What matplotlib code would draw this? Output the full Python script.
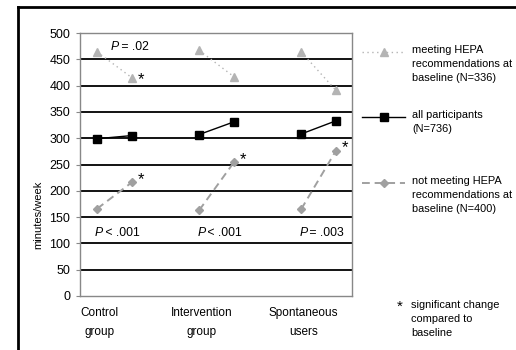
import matplotlib
matplotlib.use("Agg")
import matplotlib.pyplot as plt
from matplotlib.lines import Line2D

plt.rcParams['font.family'] = ['Liberation Sans', 'DejaVu Sans']

groups = ["Control\ngroup", "Intervention\ngroup", "Spontaneous\nusers"]
meeting = [[464, 415], [467, 417], [464, 391]]
allp = [[299, 305], [307, 331], [308, 333]]
notmeet = [[166, 216], [163, 254], [165, 276]]
p_top = ["P = .02", "", ""]
p_bottom = ["P < .001", "P < .001", "P = .003"]
sig_meeting = [True, False, False]
sig_not = [True, True, True]
yticks = list(range(0, 501, 50))

W, H = 516, 350
fig = plt.figure(figsize=(W / 100, H / 100), dpi=100)
ax = fig.add_axes([80 / W, (H - 296) / H, 272 / W, 263 / H])

off = 0.17
c_meet = "#b4b4b4"
c_not = "#a0a0a0"
st_meet = dict(color=c_meet, ls=(0, (1, 2.5)), lw=1.0, marker="^", ms=5.5, mfc=c_meet, mec=c_meet)
st_all = dict(color="black", ls="-", lw=1.0, marker="s", ms=5.5, mfc="black", mec="black")
st_not = dict(color=c_not, ls=(0, (4, 2.5)), lw=1.4, marker="D", ms=4.5, mfc=c_not, mec=c_not)
for i in range(3):
    xs = [i - off, i + off]
    ax.plot(xs, meeting[i], zorder=3, **st_meet)
    ax.plot(xs, allp[i], zorder=4, **st_all)
    ax.plot(xs, notmeet[i], zorder=3, **st_not)
    if sig_meeting[i]:
        ax.text(i + off + 0.06, meeting[i][1] - 4, "*", fontsize=12, va="center", ha="left")
    if sig_not[i]:
        ax.text(i + off + 0.06, notmeet[i][1] + 6, "*", fontsize=12, va="center", ha="left")
    if p_top[i]:
        ax.text(i - off + 0.13, 473, p_top[i][:1], fontsize=8.8, style="italic", va="center", ha="left")
        ax.text(i - off + 0.20, 473, p_top[i][1:], fontsize=8.8, va="center", ha="left")
    ax.text(i - off - 0.02, 119, p_bottom[i][:1], fontsize=8.8, style="italic", va="center", ha="left")
    ax.text(i - off + 0.05, 119, p_bottom[i][1:], fontsize=8.8, va="center", ha="left")

ax.set_xlim(-0.338, 2.328)
ax.set_ylim(0, 500)
ax.set_yticks(yticks)
ax.set_yticklabels([str(t) for t in yticks], fontsize=9)
ax.set_xticks([i - 0.15 for i in range(3)])
ax.set_xticklabels(groups, fontsize=8.5, linespacing=1.8)
ax.tick_params(axis="x", length=0, pad=8)
ax.tick_params(axis="y", length=3, color="#888888", pad=4)
for t in yticks[1:]:
    ax.axhline(t, color="black", lw=1.3, zorder=1)
for s in ax.spines.values():
    s.set_color("#888888")
    s.set_linewidth(1.0)
ax.set_ylabel("minutes/week", fontsize=8)
ax.yaxis.set_label_coords(-0.135, 0.31)

def fx(px):
    return px / W

def fy(py):
    return 1 - py / H

leg = [
    ("meeting HEPA\nrecommendations at\nbaseline (N=336)", 52, st_meet),
    ("all participants\n(N=736)", 117, st_all),
    ("not meeting HEPA\nrecommendations at\nbaseline (N=400)", 183, st_not),
]
for label, py, st in leg:
    fig.add_artist(Line2D([fx(362), fx(405)], [fy(py), fy(py)],
                          color=st["color"], ls=st["ls"], lw=st["lw"]))
    fig.add_artist(Line2D([fx(383.5)], [fy(py)], marker=st["marker"], ms=st["ms"],
                          mfc=st["mfc"], mec=st["mec"], ls="none"))
    fig.text(fx(412), fy(py - 7), label, fontsize=7.9, va="top", ha="left", linespacing=1.5)

fig.text(fx(397), fy(307), "*", fontsize=11, va="center", ha="left")
fig.text(fx(411), fy(300), "significant change\ncompared to\nbaseline", fontsize=7.9, va="top", ha="left", linespacing=1.5)

fig.add_artist(Line2D([fx(18), 1.0], [fy(7), fy(7)], color="black", lw=2))
fig.add_artist(Line2D([fx(18), fx(18)], [fy(7), 0], color="black", lw=2))

fig.savefig("out.png", dpi=100)
